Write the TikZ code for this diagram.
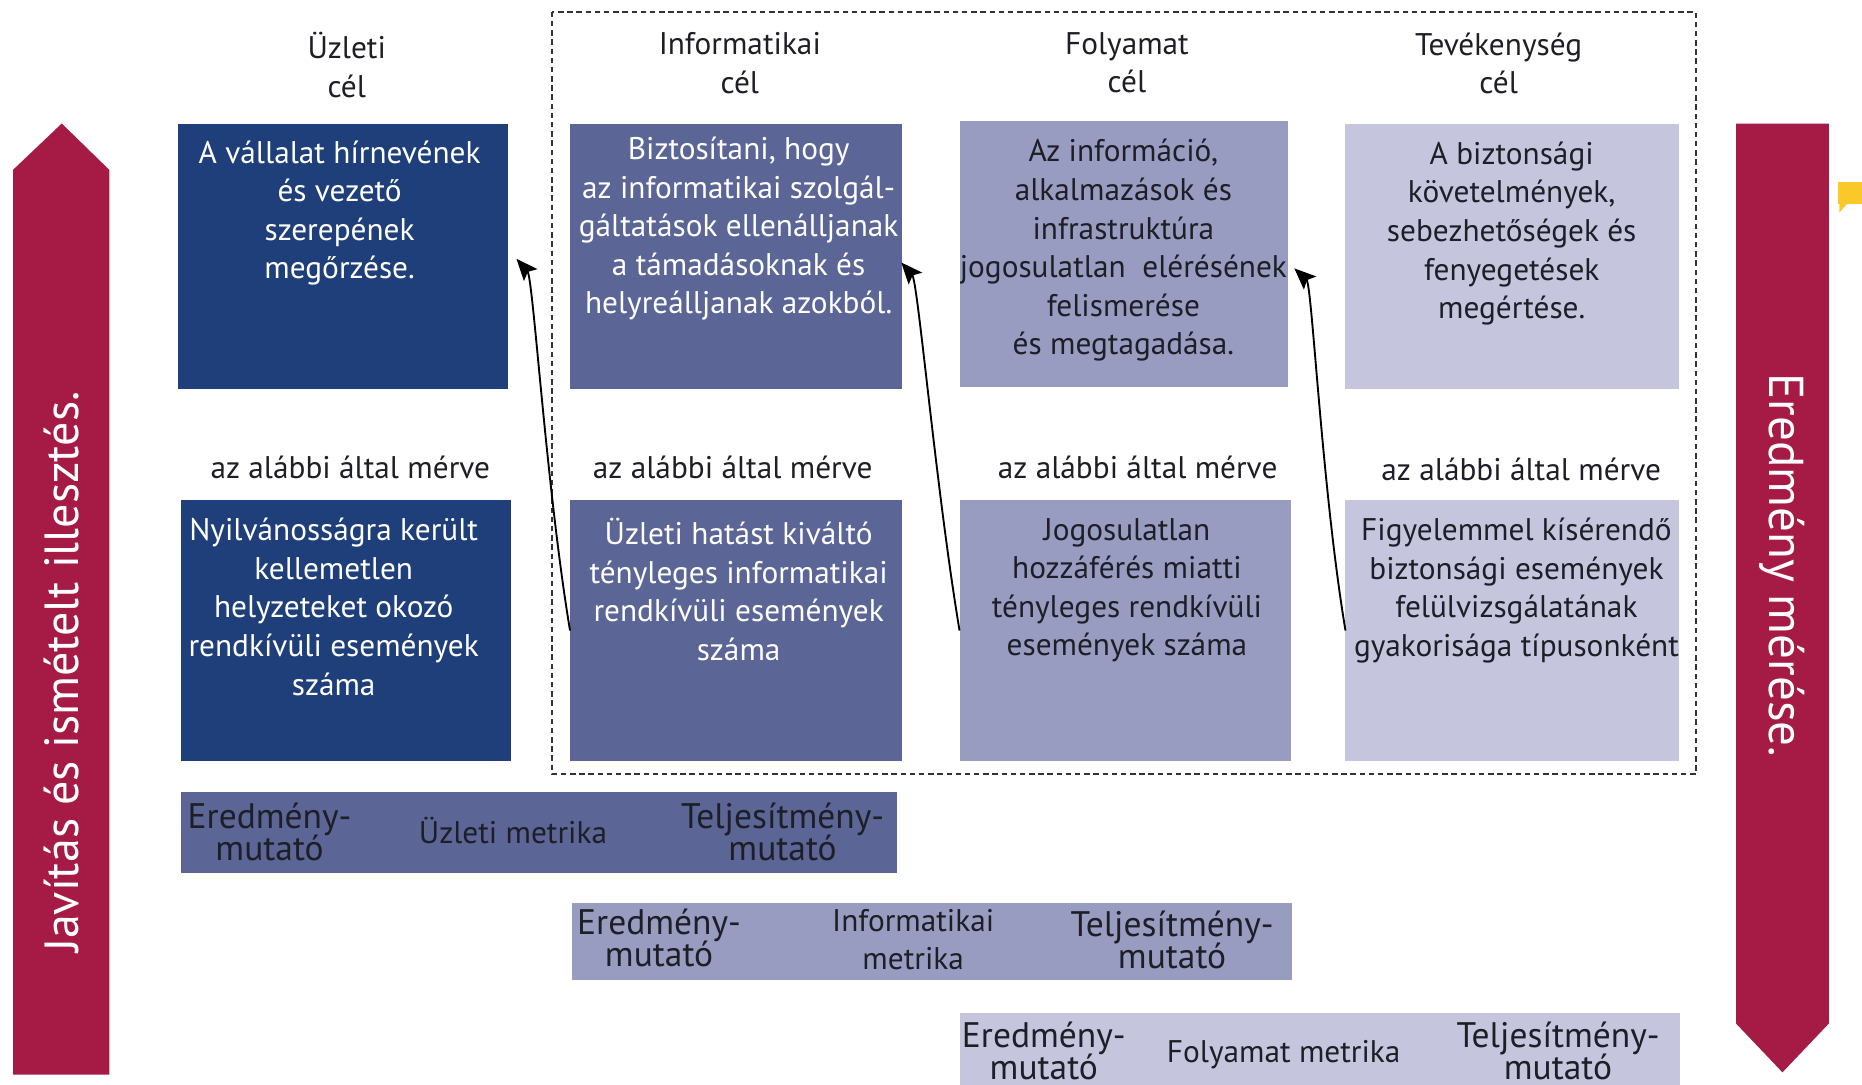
\documentclass[tikz,border=0pt]{standalone}
\usepackage{fontspec}
\setmainfont{PT Sans}
\usetikzlibrary{arrows.meta}
\definecolor{cmaroon}{RGB}{166,27,70}
\definecolor{cnavy}{RGB}{31,63,122}
\definecolor{cmed}{RGB}{91,101,150}
\definecolor{clm}{RGB}{153,156,193}
\definecolor{clight}{RGB}{197,198,222}
\definecolor{tdark}{RGB}{30,30,38}
\definecolor{cyel}{RGB}{250,200,40}
\begin{document}
\lineskiplimit=-20pt\relax
\begin{tikzpicture}[x=0.02cm,y=-0.02cm,
  rbox/.style={draw=none,inner sep=0,outer sep=0,minimum height=4.48cm},
  lbox/.style={draw=none,inner sep=0,outer sep=0,minimum height=4.4cm},
  mbar/.style={draw=none,inner sep=0,outer sep=0},
  txt/.style={inner sep=0,align=center,font=\fontsize{15}{18.5}\selectfont},
  wtxt/.style={txt,text=white},
  dtxt/.style={txt,text=tdark},
  btxt/.style={inner sep=0,align=center,text=tdark,font=\fontsize{17}{15.3}\selectfont},
  vtxt/.style={inner sep=0,text=white,font=\fontsize{23}{26}\selectfont},
  conn/.style={-{Stealth[length=0.36cm,width=0.3cm,inset=0.07cm]},line width=0.9pt,black},
  frame/.style={draw=black!80,line width=0.9pt,dash pattern=on 2.6pt off 1.8pt}
]
\useasboundingbox (0,0) rectangle (1568,913);

% side arrows
\fill[cmaroon] (11,905) -- (11,143) -- (52,104) -- (92,143) -- (92,905) -- cycle;
\fill[cmaroon] (1462,104) -- (1540,104) -- (1540,862) -- (1501,903) -- (1462,862) -- cycle;
\node[vtxt,rotate=90] (javit) at (52,566) {Javítás és ismételt illesztés.};
\node[vtxt,rotate=-90,font=\fontsize{23.5}{26}\selectfont] (eredm) at (1501,476) {Eredmény mérése.};

% dashed frame
\draw[frame] (465,10) rectangle (1428,652);

% headers
\node[dtxt,anchor=north] (h1) at (292,27) {Üzleti\\cél};
\node[dtxt,anchor=north] (h2) at (623,27) {Informatikai\\cél};
\node[dtxt,anchor=north] (h3) at (949,27) {Folyamat\\cél};
\node[dtxt,anchor=north] (h4) at (1262,27) {Tevékenység\\cél};

% goal boxes
\node[rbox,fill=cnavy,minimum width=5.56cm] (b1) at (289,216) {};
\node[rbox,fill=cmed,minimum width=5.6cm] (b2) at (620,216) {};
\node[rbox,fill=clm,minimum width=5.54cm] (b3) at (946.5,214) {};
\node[rbox,fill=clight,minimum width=5.62cm] (b4) at (1273.5,216) {};

\node[wtxt,anchor=north] (t1) at (286,118) {A vállalat hírnevének\\és vezető\\szerepének\\megőrzése.};
\node[wtxt,anchor=north] (t2) at (622,115) {Biztosítani, hogy\\az informatikai szolgál-\\gáltatások ellenálljanak\\a támadásoknak és\\helyreálljanak azokból.};
\node[dtxt,anchor=north] (t3) at (946,117) {Az információ,\\alkalmazások és\\infrastruktúra\\jogosulatlan\ \ elérésének\\felismerése\\és megtagadása.};
\node[dtxt,anchor=north] (t4) at (1273,119) {A biztonsági\\követelmények,\\sebezhetőségek és\\fenyegetések\\megértése.};

% measured by
\node[dtxt,anchor=base] (m1) at (295,403) {az alábbi által mérve};
\node[dtxt,anchor=base] (m2) at (617,403) {az alábbi által mérve};
\node[dtxt,anchor=base] (m3) at (958,403) {az alábbi által mérve};
\node[dtxt,anchor=base] (m4) at (1281,405) {az alábbi által mérve};

% metric boxes
\node[lbox,fill=cnavy,minimum width=5.56cm] (b5) at (291,531) {};
\node[lbox,fill=cmed,minimum width=5.6cm] (b6) at (620,531) {};
\node[lbox,fill=clm,minimum width=5.58cm] (b7) at (947.5,531) {};
\node[lbox,fill=clight,minimum width=5.62cm] (b8) at (1273.5,531) {};

\node[wtxt,anchor=north] (t5) at (281,436) {Nyilvánosságra került\\kellemetlen\\helyzeteket okozó\\rendkívüli események\\száma};
\node[wtxt,anchor=north] (t6) at (622,436) {Üzleti hatást kiváltó\\tényleges informatikai\\rendkívüli események\\száma};
\node[dtxt,anchor=north] (t7) at (949,436) {Jogosulatlan\\hozzáférés miatti\\tényleges rendkívüli\\események száma};
\node[dtxt,anchor=north] (t8) at (1277,436) {Figyelemmel kísérendő\\biztonsági események\\felülvizsgálatának\\gyakorisága típusonként};

% metric bars
\node[mbar,fill=cmed,minimum width=12.06cm,minimum height=1.36cm] (mb1) at (453.5,701) {};
\node[mbar,fill=clm,minimum width=12.12cm,minimum height=1.3cm] (mb2) at (785,792.5) {};
\node[mbar,fill=clight,minimum width=12.14cm,minimum height=1.34cm] (mb3) at (1111.5,886.5) {};

\node[btxt,anchor=north] (e1) at (227,676) {Eredmény-\\mutató};
\node[dtxt,anchor=base] (u1) at (432,710) {Üzleti metrika};
\node[btxt,anchor=north] (p1) at (659,676) {Teljesítmény-\\mutató};

\node[btxt,anchor=north] (e2) at (555,765) {Eredmény-\\mutató};
\node[dtxt,anchor=north] (u2) at (769,765) {Informatikai\\metrika};
\node[btxt,anchor=north] (p2) at (987,767) {Teljesítmény-\\mutató};

\node[btxt,anchor=north] (e3) at (879,860) {Eredmény-\\mutató};
\node[dtxt,anchor=base] (u3) at (1081,895) {Folyamat metrika};
\node[btxt,anchor=north] (p3) at (1312,860) {Teljesítmény-\\mutató};

% connectors
\draw[conn] (b6.west) .. controls +(-20,-120) and +(14,16) .. ([xshift=0.14cm,yshift=-0.04cm]b1.east);
\draw[conn] (b7.west) .. controls +(-20,-120) and +(14,16) .. ([xshift=-0.02cm,yshift=-0.1cm]b2.east);
\draw[conn] (b8.west) .. controls +(-20,-120) and +(15,14) .. ([xshift=0.1cm,yshift=-0.24cm]b3.east);

% small yellow marker at right edge
\fill[cyel] (1548,153) rectangle (1568,172);
\fill[cyel] (1549,171) -- (1549,179) -- (1556,171) -- cycle;
\end{tikzpicture}
\end{document}
